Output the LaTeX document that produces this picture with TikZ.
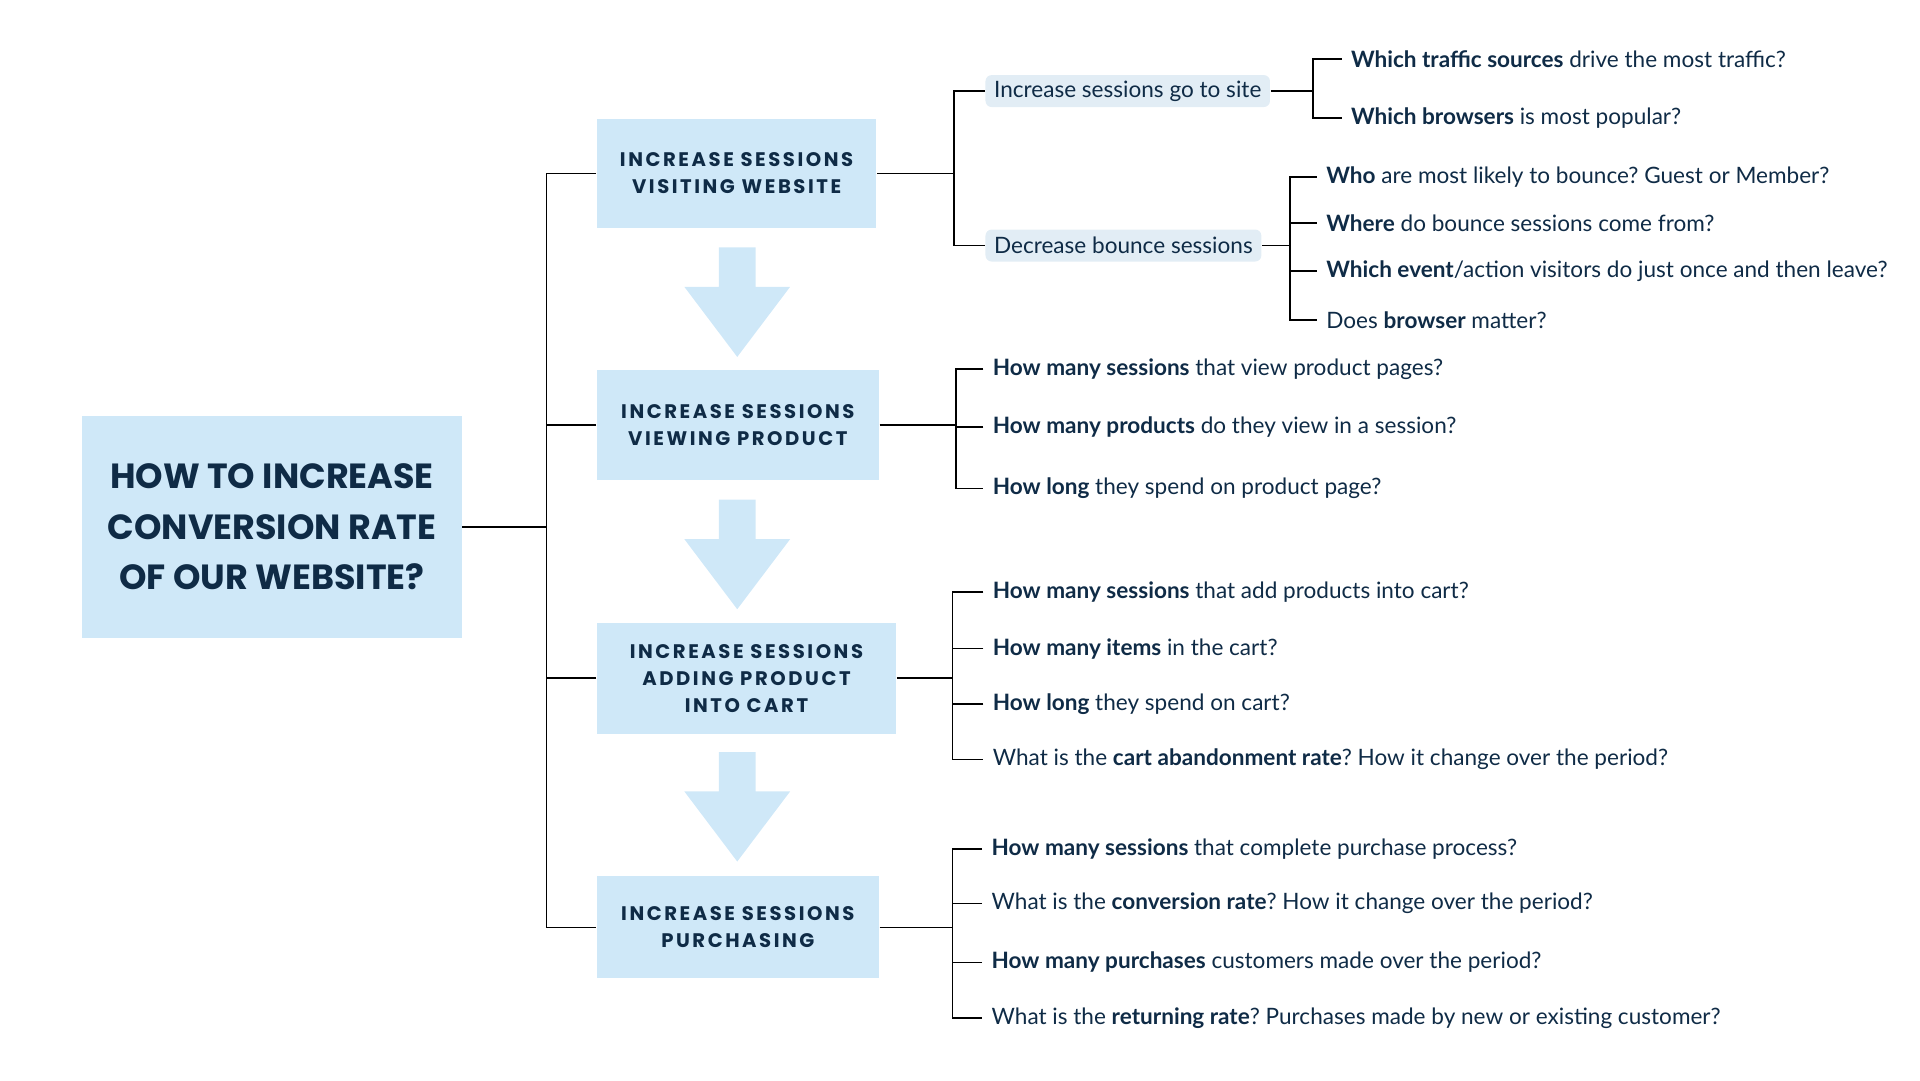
\documentclass[tikz,border=0pt]{standalone}
\usepackage{fontspec}
\setmainfont{Lato}
\newfontfamily\headfont{Poppins}
\newfontfamily\labelfont{Poppins}[LetterSpace=13]
\frenchspacing

\definecolor{navy}{HTML}{0F2B46}
\definecolor{boxblue}{HTML}{CFE8F8}
\definecolor{pillblue}{HTML}{E2EDF5}
\definecolor{linegray}{HTML}{151515}

\begin{document}
\begin{tikzpicture}[x=1bp,y=-1bp,line width=1.4bp,
	main node/.style = {rectangle,fill=boxblue,text=navy,align=center,inner sep=0pt},
	step node/.style = {main node,font=\labelfont\bfseries\fontsize{16}{22}\selectfont},
	pill node/.style = {rounded corners=5bp,fill=pillblue,text=navy,anchor=west,inner xsep=7bp,minimum height=26bp,font=\fontsize{18.4}{20}\selectfont},
	ask node/.style = {anchor=west,inner xsep=7bp,inner ysep=0pt,text=navy,font=\fontsize{18.4}{20}\selectfont}]
	
	\useasboundingbox (0,0) rectangle (1560,877.5);
	
	\node[main node,minimum width=308bp,minimum height=180bp,font=\headfont\bfseries\fontsize{28.5}{41}\selectfont] (r) at (221,428) {HOW TO INCREASE\\CONVERSION RATE\\OF OUR WEBSITE?};
	
	\node[step node,minimum width=227bp,minimum height=88bp] (b1) at (598.5,141) {INCREASE SESSIONS\\VISITING WEBSITE};
	\node[step node,minimum width=229bp,minimum height=89bp] (b2) at (599.5,345.5) {INCREASE SESSIONS\\VIEWING PRODUCT};
	\node[step node,minimum width=243bp,minimum height=90bp] (b3) at (606.5,551) {INCREASE SESSIONS\\ADDING PRODUCT\\INTO CART};
	\node[step node,minimum width=229bp,minimum height=83bp] (b4) at (599.5,753.5) {INCREASE SESSIONS\\PURCHASING};
	
	% arrows between the steps
	\foreach \y in {201,406,611}
	\fill[boxblue] (584,\y) -- (614,\y) -- (614,\y+32) -- (642,\y+32) -- (599,\y+89) -- (556,\y+32) -- (584,\y+32) -- cycle;
	
	\coordinate (t) at (444,0);
	\draw (r.east) -- (r.east -| t);
	\draw (b1.west) -- (b1.west -| t) -- (b4.west -| t) -- (b4.west);
	\foreach \n in {b2,b3}
	\draw (\n.west) -- (\n.west -| t);
	
	% step 1
	\node[pill node] (p1) at (800,74) {Increase sessions go to site};
	\node[pill node] (p2) at (800,199.5) {Decrease bounce sessions};
	\coordinate (s1) at (775,0);
	\draw (b1.east) -- (b1.east -| s1);
	\draw (p1.west) -- (p1.west -| s1) -- (p2.west -| s1) -- (p2.west);
	
	\node[ask node] (a1) at (1090,48) {\textbf{Which traffic sources} drive the most traffic?};
	\node[ask node] (a2) at (1090,96) {\textbf{Which browsers} is most popular?};
	\coordinate (s2) at (1067,0);
	\draw (p1.east) -- (p1.east -| s2);
	\draw (a1.west) -- (a1.west -| s2) -- (a2.west -| s2) -- (a2.west);
	
	\node[ask node] (d1) at (1070,144) {\textbf{Who} are most likely to bounce? Guest or Member?};
	\node[ask node] (d2) at (1070,181) {\textbf{Where} do bounce sessions come from?};
	\node[ask node] (d3) at (1070,220) {\textbf{Which event}/action visitors do just once and then leave?};
	\node[ask node] (d4) at (1070,260) {Does \textbf{browser} matter?};
	\coordinate (s3) at (1048,0);
	\draw (p2.east) -- (p2.east -| s3);
	\draw (d1.west) -- (d1.west -| s3) -- (d4.west -| s3) -- (d4.west);
	\foreach \n in {d2,d3}
	\draw (\n.west) -- (\n.west -| s3);
	
	% step 2
	\node[ask node] (e1) at (799,300) {\textbf{How many sessions} that view product pages?};
	\node[ask node] (e2) at (799,347) {\textbf{How many products} do they view in a session?};
	\node[ask node] (e3) at (799,397) {\textbf{How long} they spend on product page?};
	\coordinate (s4) at (777,0);
	\draw (b2.east) -- (b2.east -| s4);
	\draw (e1.west) -- (e1.west -| s4) -- (e3.west -| s4) -- (e3.west);
	\draw (e2.west) -- (e2.west -| s4);
	
	% step 3
	\node[ask node] (f1) at (799,481) {\textbf{How many sessions} that add products into cart?};
	\node[ask node] (f2) at (799,527) {\textbf{How many items} in the cart?};
	\node[ask node] (f3) at (799,572) {\textbf{How long} they spend on cart?};
	\node[ask node] (f4) at (799,617) {What is the \textbf{cart abandonment rate}? How it change over the period?};
	\coordinate (s5) at (774,0);
	\draw (b3.east) -- (b3.east -| s5);
	\draw (f1.west) -- (f1.west -| s5) -- (f4.west -| s5) -- (f4.west);
	\foreach \n in {f2,f3}
	\draw (\n.west) -- (\n.west -| s5);
	
	% step 4
	\node[ask node] (g1) at (798,690) {\textbf{How many sessions} that complete purchase process?};
	\node[ask node] (g2) at (798,734) {What is the \textbf{conversion rate}? How it change over the period?};
	\node[ask node] (g3) at (798,782) {\textbf{How many purchases} customers made over the period?};
	\node[ask node] (g4) at (798,827) {What is the \textbf{returning rate}? Purchases made by new or existing customer?};
	\draw (b4.east) -- (b4.east -| s5);
	\draw (g1.west) -- (g1.west -| s5) -- (g4.west -| s5) -- (g4.west);
	\foreach \n in {g2,g3}
	\draw (\n.west) -- (\n.west -| s5);
\end{tikzpicture}
\end{document}
